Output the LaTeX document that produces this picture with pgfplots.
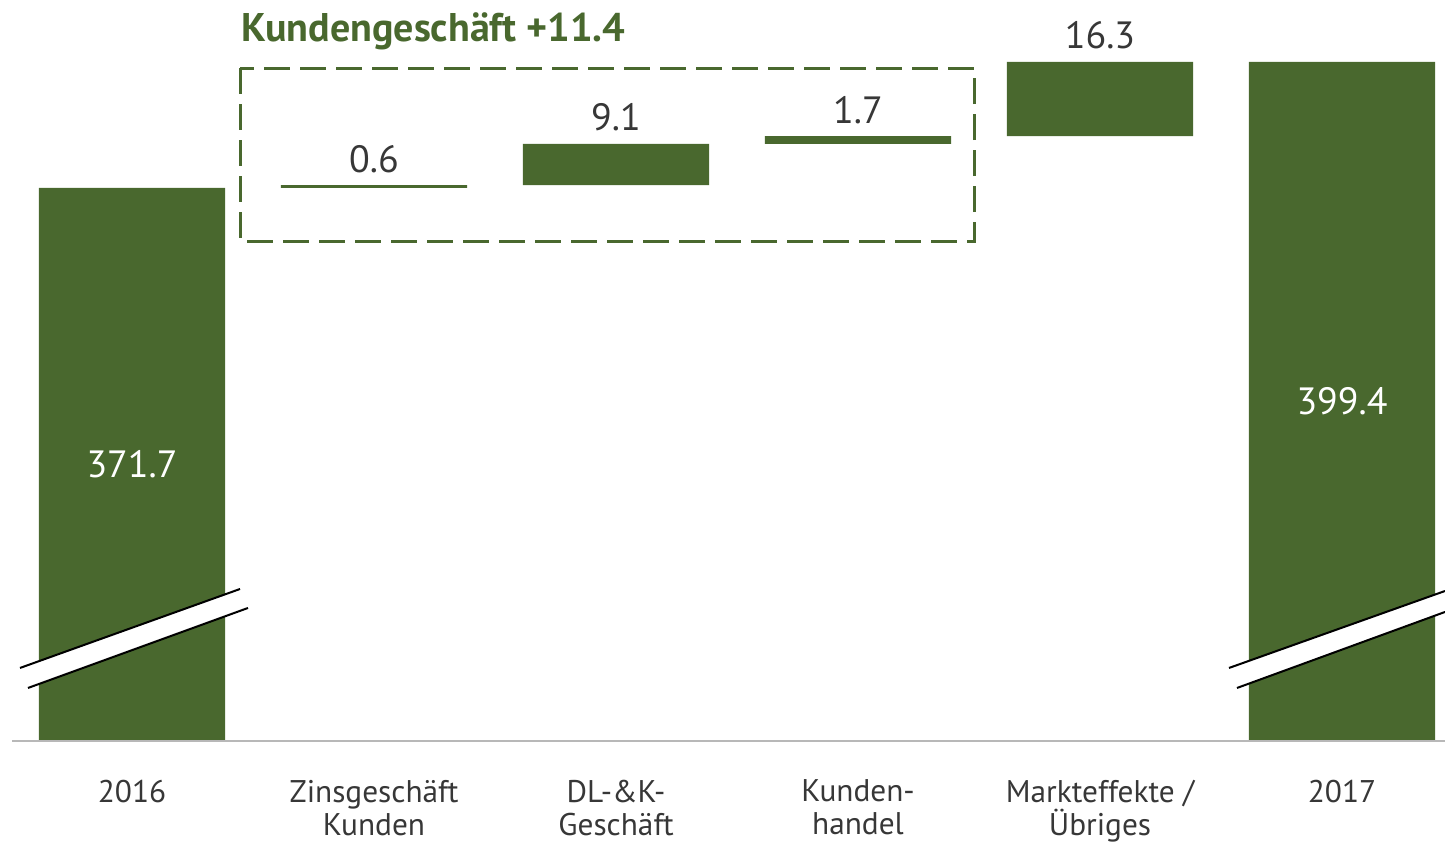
\documentclass[border=0pt]{standalone}
\usepackage{fontspec}
\setmainfont{PT Sans}
\usepackage{pgfplots}
\pgfplotsset{compat=1.18}
\definecolor{dzgreen}{RGB}{73,104,46}
\definecolor{txt}{RGB}{55,55,55}
\begin{document}
\begin{tikzpicture}
\begin{axis}[
  scale only axis, width=1083.75pt, height=555.75pt,
  xmin=-0.5455, xmax=5.4256, ymin=250.13, ymax=413.03,
  axis line style={draw=none},
  ytick=\empty,
  xtick={0,...,5},
  xticklabels={2016, Zinsgeschäft\\Kunden, DL-\&K-\\Geschäft, Kunden-\\handel, Markteffekte /\\Übriges, 2017},
  major tick length=0pt,
  xticklabel style={align=center, font=\fontsize{23.5}{24.75}\selectfont, text=txt, anchor=north, inner sep=0pt, yshift=-29pt},
  ybar stacked, bar width=0.769,
  after end axis/.code={
    % break marks
    \fill[white] (axis cs:-0.4628,266.18) -- (axis cs:0.4463,283.54) -- (axis cs:0.4793,279.37) -- (axis cs:-0.4298,261.78) -- cycle;
    \draw[black, line width=1.5pt] (axis cs:-0.4628,266.18) -- (axis cs:0.4463,283.54);
    \draw[black, line width=1.5pt] (axis cs:-0.4298,261.78) -- (axis cs:0.4793,279.37);
    \fill[white] (axis cs:4.5331,266.18) -- (axis cs:5.4256,283.10) -- (axis cs:5.4256,278.49) -- (axis cs:4.5661,261.78) -- cycle;
    \draw[black, line width=1.5pt] (axis cs:4.5331,266.18) -- (axis cs:5.4256,283.10);
    \draw[black, line width=1.5pt] (axis cs:4.5661,261.78) -- (axis cs:5.4256,278.49);
    % baseline
    \draw[black!28, line width=1.8pt] (axis cs:-0.4959,250.13) -- (axis cs:5.4256,250.13);
    % value labels
    \node[font=\fontsize{28.5}{30}\selectfont, text=white] at (axis cs:0,310.9) {371.7};
    \node[font=\fontsize{28.5}{30}\selectfont, text=white] at (axis cs:5,324.8) {399.4};
    \node[anchor=base, yshift=9.75pt, font=\fontsize{28.5}{30}\selectfont, text=txt] at (axis cs:1,372.3) {0.6};
    \node[anchor=base, yshift=9.75pt, font=\fontsize{28.5}{30}\selectfont, text=txt] at (axis cs:2,381.4) {9.1};
    \node[anchor=base, yshift=9.75pt, font=\fontsize{28.5}{30}\selectfont, text=txt] at (axis cs:3,383.1) {1.7};
    \node[anchor=base, yshift=9.75pt, font=\fontsize{28.5}{30}\selectfont, text=txt] at (axis cs:4,399.4) {16.3};
    % group box and title
    \draw[dzgreen, line width=2.25pt, dash pattern=on 19.5pt off 7.5pt] (axis cs:0.4463,398.07) rectangle (axis cs:3.4793,360.04);
    \node[anchor=base west, inner sep=0pt, font=\fontsize{30}{30}\selectfont\bfseries, text=dzgreen] at (axis cs:0.4504,404.0) {Kundengeschäft +11.4};
  },
]
\addplot[draw=none, fill=none] coordinates {(0,0) (1,371.7) (2,372.3) (3,381.4) (4,383.1) (5,0)};
\addplot[fill=dzgreen, draw=none] coordinates {(0,371.7) (1,0.6) (2,9.1) (3,1.7) (4,16.3) (5,399.4)};
\end{axis}
\pgfresetboundingbox
\path[use as bounding box] ([yshift=-75.75pt]current axis.south west) rectangle (current axis.north east);
\end{tikzpicture}
\end{document}
